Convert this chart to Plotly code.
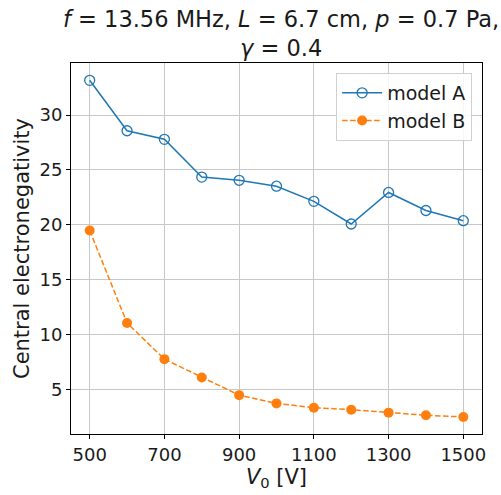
import plotly.graph_objects as go

voltage = [500, 600, 700, 800, 900, 1000, 1100, 1200, 1300, 1400, 1500]
model_a = [33.16, 28.57, 27.79, 24.35, 24.06, 23.52, 22.14, 20.08, 22.95, 21.31, 20.38]
model_b = [19.49, 11.07, 7.78, 6.11, 4.50, 3.75, 3.36, 3.18, 2.91, 2.67, 2.52]
x_ticks = [500, 700, 900, 1100, 1300, 1500]
y_ticks = [5, 10, 15, 20, 25, 30]

FONT = "DejaVu Sans"
TXT = "#1a1a1a"

fig = go.Figure()
fig.add_trace(go.Scatter(
    x=voltage, y=model_a, name="model A", mode="lines+markers",
    line=dict(color="#1f77b4", width=1.5),
    marker=dict(symbol="circle-open", size=10, color="#1f77b4", line=dict(width=1.3, color="#1f77b4")),
))
fig.add_trace(go.Scatter(
    x=voltage, y=model_b, name="model B", mode="lines+markers",
    line=dict(color="#ff7f0e", width=1.5, dash="5.5px,2.5px"),
    marker=dict(symbol="circle", size=10, color="#ff7f0e"),
))

axis_common = dict(
    showline=True, linecolor="black", linewidth=1, mirror=True,
    ticks="outside", ticklen=4, tickwidth=1, tickcolor="black",
    showgrid=True, gridcolor="#c8c8c8", gridwidth=1, zeroline=False,
    tickfont=dict(family=FONT, size=18, color=TXT),
)

fig.update_layout(
    width=501, height=495,
    margin=dict(l=71, r=19, t=63, b=55),
    paper_bgcolor="white", plot_bgcolor="white",
    font=dict(family=FONT, color=TXT),
    xaxis=dict(range=[450, 1550], tickvals=x_ticks,
               title=dict(text="<i>V</i><sub>0</sub> [V]", font=dict(family=FONT, size=21), standoff=4),
               **axis_common),
    yaxis=dict(range=[0.965, 34.735], tickvals=y_ticks,
               title=dict(text="Central electronegativity", font=dict(family=FONT, size=21), standoff=4),
               **axis_common),
    legend=dict(
        x=0.976, xanchor="right", y=0.973, yanchor="top",
        bgcolor="rgba(255,255,255,0.85)", bordercolor="#d0d0d0", borderwidth=1,
        font=dict(family=FONT, size=19, color=TXT),
        itemwidth=40,
    ),
    showlegend=True,
    annotations=[dict(
        text="<i>f</i> = 13.56 MHz, <i>L</i> = 6.7 cm, <i>p</i> = 0.7 Pa,<br><i>γ</i> = 0.4",
        xref="paper", yref="paper", x=0.5, y=1, xanchor="center", yanchor="bottom",
        xshift=4, yshift=0, showarrow=False, align="center",
        font=dict(family=FONT, size=22.5, color=TXT),
    )],
)

fig.write_html("out.html")
